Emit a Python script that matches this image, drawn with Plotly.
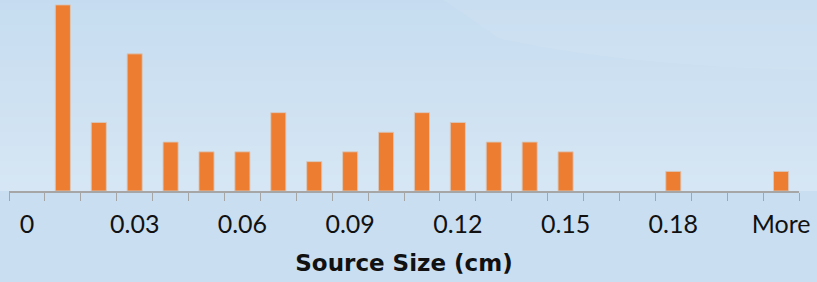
import plotly.graph_objects as go

categories = ["0", "0.01", "0.02", "0.03", "0.04", "0.05", "0.06", "0.07", "0.08", "0.09",
              "0.1", "0.11", "0.12", "0.13", "0.14", "0.15", "0.16", "0.17", "0.18", "0.19",
              "0.2", "More"]
tick_labels = ["0", "0.03", "0.06", "0.09", "0.12", "0.15", "0.18", "More"]
frequency = [0, 19, 7, 14, 5, 4, 4, 8, 3, 4, 6, 8, 7, 5, 5, 4, 0, 0, 2, 0, 0, 2]

xpos = list(range(len(categories)))
label_pos = [categories.index(t) for t in tick_labels]
boundaries = [i - 0.5 for i in range(len(categories) + 1)]
outline = [1 if v > 0 else 0 for v in frequency]

fig = go.Figure()
fig.add_trace(go.Bar(
    x=xpos, y=frequency, width=0.42,
    marker=dict(color="#ED7D31", line=dict(color="rgba(215,200,190,0.9)", width=outline)),
))

# background gradient
shapes = []
top = (189, 215, 238)
bot = (214, 230, 244)
n = 40
for i in range(n):
    t = i / (n - 1)
    c = tuple(int(round(top[k] + (bot[k] - top[k]) * t)) for k in range(3))
    shapes.append(dict(type="rect", xref="paper", yref="paper", layer="below",
                       x0=-0.05, x1=1.05, y0=1 - (i + 1) / n * 1.5 + 0.5,
                       y1=1 - i / n * 1.5 + 0.5 + 0.01,
                       fillcolor="rgb(%d,%d,%d)" % c, line=dict(width=0)))
# lighter band top-right
shapes.append(dict(type="path", xref="paper", yref="paper", layer="below",
                   path="M 0.55,1.0 L 1.05,1.0 L 1.05,0.63 C 0.9,0.64 0.75,0.68 0.62,0.8 Z",
                   fillcolor="rgba(255,255,255,0.07)", line=dict(width=0)))

fig.update_layout(
    width=817, height=282,
    margin=dict(l=9, r=18, t=0, b=91),
    paper_bgcolor="#C9DEF1", plot_bgcolor="rgba(0,0,0,0)",
    showlegend=False, shapes=shapes,
    font=dict(family="Lato, sans-serif", color="#000000"),
)
fig.update_xaxes(
    range=[-0.5, len(categories) - 0.5],
    tickvals=label_pos, ticktext=tick_labels, ticks="", ticklen=0,
    tickfont=dict(size=25, color="#111111"), ticklabelstandoff=10,
    showline=True, linecolor="#A6A6A6", linewidth=1.5, showgrid=False, zeroline=False,
    minor=dict(tickvals=boundaries, ticks="outside", ticklen=8, tickcolor="#A6A6A6", tickwidth=1.2, showgrid=False),
    title=dict(text="<b>Source Size (cm)</b>", font=dict(size=23, family="DejaVu Sans", color="#111111"), standoff=18),
)
fig.update_yaxes(range=[0, 19.5], visible=False, showgrid=False)

fig.write_html("out.html", config={"displayModeBar": False},
               post_script="document.body.style.margin='0';document.body.style.background='#C9DEF1';")
